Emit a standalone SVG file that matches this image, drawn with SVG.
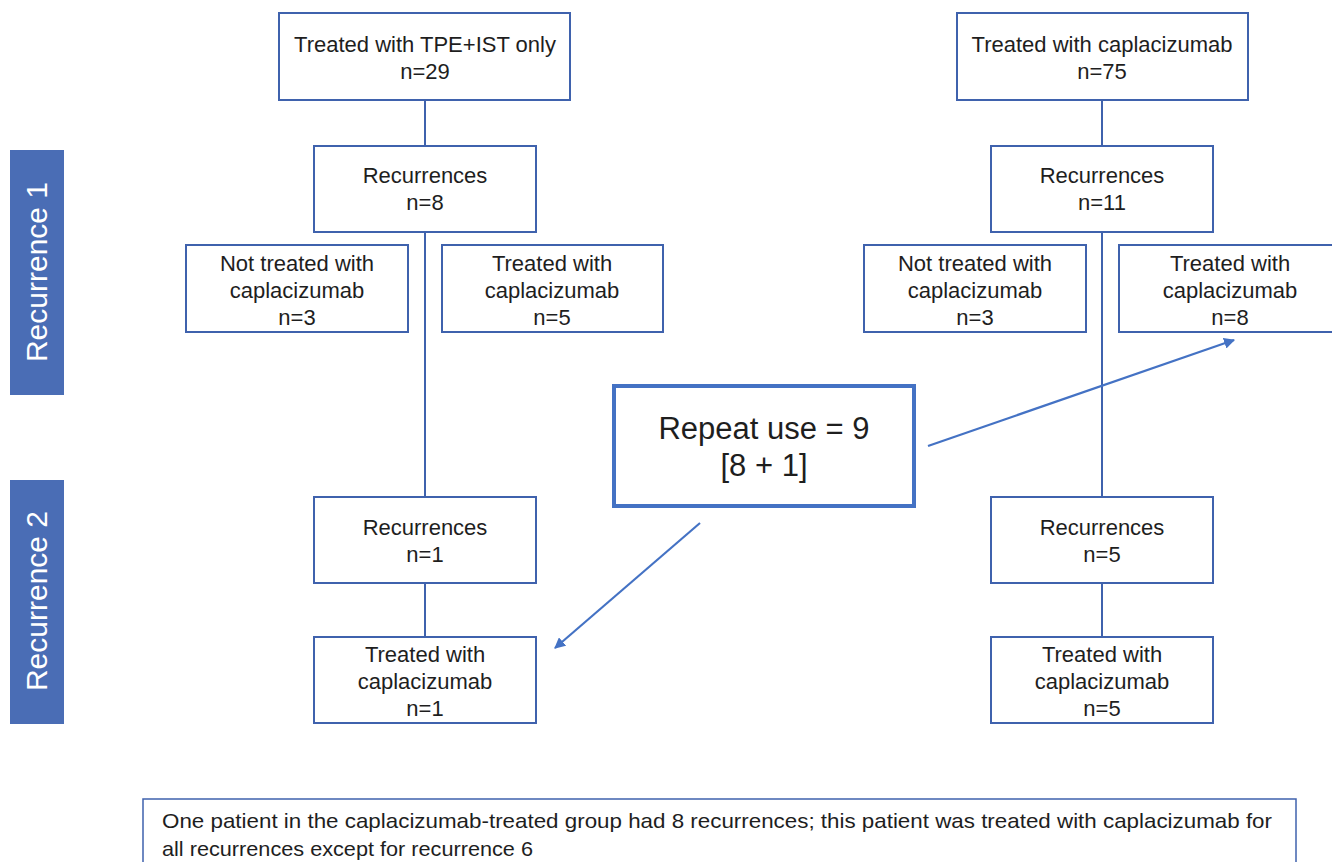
<svg xmlns="http://www.w3.org/2000/svg" width="1332" height="862" viewBox="0 0 1332 862">
<style>
.box{fill:#fff;stroke:#3f62ad;stroke-width:2}
.t{font-family:"Liberation Sans",Arial,sans-serif;font-size:22px;fill:#1e1e1e;text-anchor:middle}
.side{fill:#4a6db5}
.st{font-family:"Liberation Sans",Arial,sans-serif;font-size:30px;fill:#fff;text-anchor:middle}
.ln{stroke:#3f62ad;stroke-width:2;fill:none}
.nt{font-family:"Liberation Sans",Arial,sans-serif;font-size:21px;fill:#1e1e1e}
</style>
<defs>
<marker id="ah" viewBox="0 0 10 10" refX="9" refY="5" markerWidth="5" markerHeight="5" orient="auto" markerUnits="strokeWidth">
<path d="M0,0 L10,5 L0,10 z" fill="#4472c4"/>
</marker>
</defs>
<rect width="1332" height="862" fill="#fff"/>
<g id="side1"><rect class="side" x="10" y="150" width="54" height="245"/><text class="st" transform="translate(47,272) rotate(-90)">Recurrence 1</text></g>
<g id="side2"><rect class="side" x="10" y="480" width="54" height="244"/><text class="st" transform="translate(47,601) rotate(-90)">Recurrence 2</text></g>
<g id="connectors">
<line class="ln" x1="425" y1="100" x2="425" y2="146"/>
<line class="ln" x1="425" y1="232" x2="425" y2="497"/>
<line class="ln" x1="425" y1="583" x2="425" y2="637"/>
<line class="ln" x1="1102" y1="100" x2="1102" y2="146"/>
<line class="ln" x1="1102" y1="232" x2="1102" y2="497"/>
<line class="ln" x1="1102" y1="583" x2="1102" y2="637"/>
<line x1="928" y1="446" x2="1234" y2="340" stroke="#4472c4" stroke-width="2.2" marker-end="url(#ah)"/>
<line x1="700" y1="523" x2="555" y2="648" stroke="#4472c4" stroke-width="2.2" marker-end="url(#ah)"/>
</g>
<g id="nA"><rect class="box" x="279" y="13" width="291" height="87"/><text class="t" x="425" y="52">Treated with TPE+IST only</text><text class="t" x="425" y="79">n=29</text></g>
<g id="nB"><rect class="box" x="957" y="13" width="291" height="87"/><text class="t" x="1102" y="52">Treated with caplacizumab</text><text class="t" x="1102" y="79">n=75</text></g>
<g id="nR1L"><rect class="box" x="314" y="146" width="222" height="86"/><text class="t" x="425" y="183">Recurrences</text><text class="t" x="425" y="210">n=8</text></g>
<g id="nR1R"><rect class="box" x="991" y="146" width="222" height="86"/><text class="t" x="1102" y="183">Recurrences</text><text class="t" x="1102" y="210">n=11</text></g>
<g id="nNL"><rect class="box" x="186" y="245" width="222" height="87"/><text class="t" x="297" y="271">Not treated with</text><text class="t" x="297" y="298">caplacizumab</text><text class="t" x="297" y="325">n=3</text></g>
<g id="nTL"><rect class="box" x="442" y="245" width="221" height="87"/><text class="t" x="552" y="271">Treated with</text><text class="t" x="552" y="298">caplacizumab</text><text class="t" x="552" y="325">n=5</text></g>
<g id="nNR"><rect class="box" x="864" y="245" width="222" height="87"/><text class="t" x="975" y="271">Not treated with</text><text class="t" x="975" y="298">caplacizumab</text><text class="t" x="975" y="325">n=3</text></g>
<g id="nTR"><rect class="box" x="1119" y="245" width="222" height="87"/><text class="t" x="1230" y="271">Treated with</text><text class="t" x="1230" y="298">caplacizumab</text><text class="t" x="1230" y="325">n=8</text></g>
<g id="nRepeat"><rect x="614" y="386" width="300" height="120" fill="#fff" stroke="#4472c4" stroke-width="4"/><text class="t" x="764" y="439" style="font-size:31px">Repeat use = 9</text><text class="t" x="764" y="476" style="font-size:31px">[8 + 1]</text></g>
<g id="nR2L"><rect class="box" x="314" y="497" width="222" height="86"/><text class="t" x="425" y="535">Recurrences</text><text class="t" x="425" y="562">n=1</text></g>
<g id="nR2R"><rect class="box" x="991" y="497" width="222" height="86"/><text class="t" x="1102" y="535">Recurrences</text><text class="t" x="1102" y="562">n=5</text></g>
<g id="nT2L"><rect class="box" x="314" y="637" width="222" height="86"/><text class="t" x="425" y="662">Treated with</text><text class="t" x="425" y="689">caplacizumab</text><text class="t" x="425" y="716">n=1</text></g>
<g id="nT2R"><rect class="box" x="991" y="637" width="222" height="86"/><text class="t" x="1102" y="662">Treated with</text><text class="t" x="1102" y="689">caplacizumab</text><text class="t" x="1102" y="716">n=5</text></g>
<g id="note"><rect x="143" y="799" width="1153" height="70" fill="#fff" stroke="#3f62ad" stroke-width="1.5"/>
<text class="nt" x="162" y="828" textLength="1110" lengthAdjust="spacingAndGlyphs">One patient in the caplacizumab-treated group had 8 recurrences; this patient was treated with caplacizumab for</text>
<text class="nt" x="162" y="856" textLength="371" lengthAdjust="spacingAndGlyphs">all recurrences except for recurrence 6</text></g>
</svg>
